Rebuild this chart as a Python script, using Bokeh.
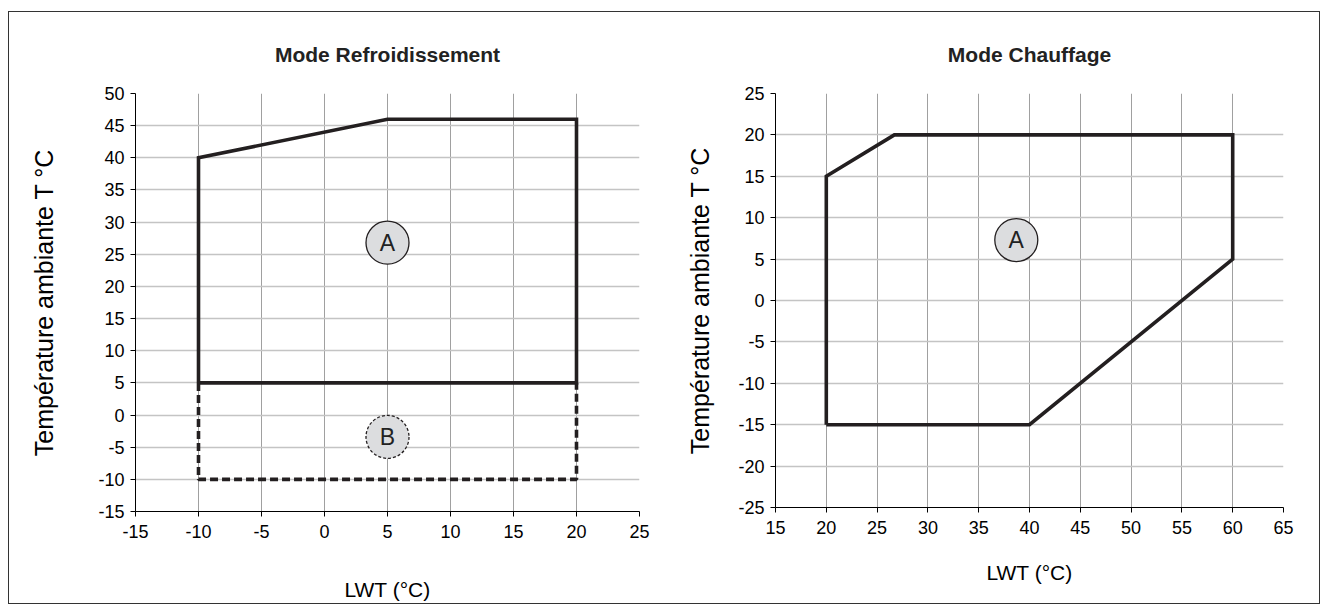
from bokeh.plotting import figure
from bokeh.layouts import row
from bokeh.models import Range1d, FixedTicker, Title, PrintfTickFormatter
from bokeh.core.properties import value
from bokeh.embed import file_html
from bokeh.resources import INLINE

# ---- data: cooling mode ----
cool_title = "Mode Refroidissement"
cool_A_x = [-10, -10, 5, 20, 20, -10]
cool_A_y = [5, 40, 46, 46, 5, 5]
cool_B_x = [-10, -10, 20, 20]
cool_B_y = [5, -10, -10, 5]
cool_x_ticks = [-15, -10, -5, 0, 5, 10, 15, 20, 25]
cool_y_ticks = [-15, -10, -5, 0, 5, 10, 15, 20, 25, 30, 35, 40, 45, 50]
cool_marks = ["A", "B"]
cool_mark_x = [5, 5]
cool_mark_y = [26.8, -3.4]

# ---- data: heating mode ----
heat_title = "Mode Chauffage"
heat_A_x = [20, 20, 26.7, 60, 60, 40, 20]
heat_A_y = [-15, 15, 20, 20, 5, -15, -15]
heat_x_ticks = [15, 20, 25, 30, 35, 40, 45, 50, 55, 60, 65]
heat_y_ticks = [-25, -20, -15, -10, -5, 0, 5, 10, 15, 20, 25]
heat_marks = ["A"]
heat_mark_x = [38.7]
heat_mark_y = [7.3]

x_label = "LWT (°C)"
y_label = "Température ambiante T °C"

FONT = "Liberation Sans"
LINE = "#231f20"


def make_fig(fw, fh, l, r, t, b, xt, yt, title, xstand, ystand):
    p = figure(frame_width=fw, frame_height=fh, output_backend="svg", toolbar_location=None,
               x_range=Range1d(xt[0], xt[-1]), y_range=Range1d(yt[0], yt[-1]),
               min_border_left=l, min_border_right=r, min_border_top=t,
               min_border_bottom=b)
    p.outline_line_color = None
    p.background_fill_color = "white"
    p.border_fill_color = "white"
    ttl = Title(text=title, align="center", text_font=FONT, text_font_size="21px",
                text_font_style="bold", text_color="#222222", standoff=56)
    p.add_layout(ttl, "above")
    for ax, ticks in ((p.xaxis, xt), (p.yaxis, yt)):
        ax.ticker = FixedTicker(ticks=ticks)
        ax.formatter = PrintfTickFormatter(format="%d")
        ax.minor_tick_line_color = None
        ax.major_tick_in = 0
        ax.major_tick_out = 5
        ax.major_tick_line_color = "black"
        ax.axis_line_color = "black"
        ax.major_label_text_font = FONT
        ax.major_label_text_font_size = "18px"
        ax.major_label_text_color = "black"
        ax.axis_label_text_font = FONT
        ax.axis_label_text_font_style = "normal"
        ax.axis_label_text_color = "black"
    p.xaxis.axis_label_text_font_size = "21px"
    p.yaxis.axis_label_text_font_size = "25px"
    p.xaxis.axis_label = x_label
    p.yaxis.axis_label = y_label
    p.xaxis.major_label_standoff = 8
    p.yaxis.major_label_standoff = 6
    p.xaxis.axis_label_standoff = xstand
    p.yaxis.axis_label_standoff = ystand
    p.xgrid.ticker = FixedTicker(ticks=xt)
    p.ygrid.ticker = FixedTicker(ticks=yt)
    p.xgrid.grid_line_color = "#a0a0a0"
    p.xgrid.grid_line_width = 1
    p.ygrid.grid_line_color = "#c4c4c4"
    p.ygrid.grid_line_width = 1.5
    return p


def mark(p, xs, ys, txt, dashed):
    p.scatter(xs, ys, marker="circle", size=43, fill_color="#dcdddf",
              line_color=LINE, line_width=1.3,
              line_dash="3 2" if dashed else "solid")
    p.text(xs, ys, text=txt, text_align="center", text_baseline="middle",
           text_font=value(FONT), text_font_size="23px", text_color="#222222")


p1 = make_fig(504, 418, 126, 22, 81, 90, cool_x_ticks, cool_y_ticks, cool_title, 37, 37)
p1.line(cool_A_x, cool_A_y, line_color=LINE, line_width=3.6, line_join="miter")
p1.line(cool_B_x, cool_B_y, line_color=LINE, line_width=3.6, line_dash="8 4")
mark(p1, [cool_mark_x[0]], [cool_mark_y[0]], [cool_marks[0]], False)
mark(p1, [cool_mark_x[1]], [cool_mark_y[1]], [cool_marks[1]], True)

p2 = make_fig(508, 414, 114, 36, 79, 94, heat_x_ticks, heat_y_ticks, heat_title, 24, 21)
p2.line(heat_A_x, heat_A_y, line_color=LINE, line_width=3.6, line_join="miter")
mark(p2, heat_mark_x, heat_mark_y, heat_marks, False)

layout = row(p1, p2, styles={"border": "1px solid #333333", "margin": "11px 0 0 8px"})

open("out.html", "w").write(file_html(layout, INLINE))
